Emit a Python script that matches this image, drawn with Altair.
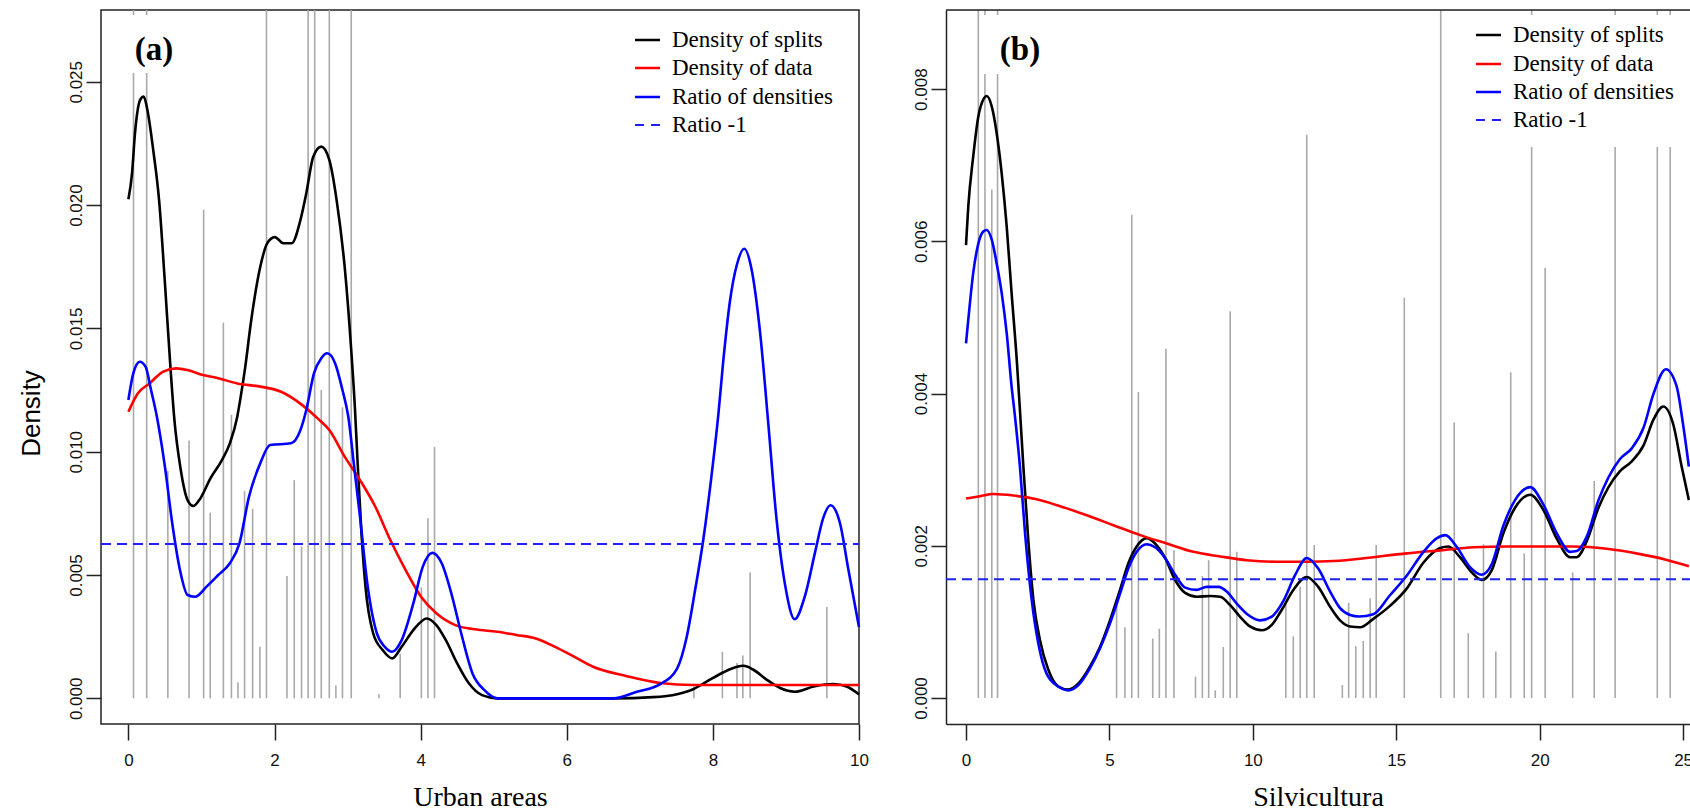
import altair as alt
import pandas as pd

# ---------------- Panel (a): Urban areas ----------------
a_xticks = [0, 2, 4, 6, 8, 10]
a_yticks = [0.000, 0.005, 0.010, 0.015, 0.020, 0.025]
a_ratio_ref = 0.00626

a_rug_x = [0.07, 0.25, 0.54, 0.83, 1.03, 1.12, 1.30, 1.41, 1.50, 1.59, 1.70, 1.80, 1.89,
           2.17, 2.27, 2.37, 2.46, 2.55, 2.64, 2.75, 2.84, 2.93, 3.05, 3.43, 3.72, 4.01,
           4.10, 4.19, 7.74, 8.13, 8.33, 8.41, 8.51, 9.56]
a_rug_h = [0.02536, 0.02536, 0.00922, 0.01045, 0.01981, 0.00753, 0.01523, 0.0115, 0.00065,
           0.0084, 0.00768, 0.00209, 0.03, 0.00496, 0.00885, 0.00615, 0.03, 0.03, 0.0125,
           0.03, 0.00053, 0.0118, 0.03, 0.00017, 0.0018, 0.0045, 0.0073, 0.0102, 0.00048,
           0.00189, 0.00143, 0.00174, 0.0051, 0.0037]
a_stub_x = [0.07, 0.25]

a_splits_x = [0.00, 0.05, 0.09, 0.16, 0.21, 0.26, 0.34, 0.42, 0.50, 0.575, 0.63, 0.71, 0.81,
              0.89, 0.97, 1.125, 1.28, 1.39, 1.49, 1.53, 1.60, 1.675, 1.805, 1.90, 2.005,
              2.12, 2.235, 2.355, 2.435, 2.53, 2.64, 2.75, 2.85, 2.96, 3.05, 3.10, 3.14,
              3.19, 3.245, 3.35, 3.48, 3.61, 3.74, 3.90, 4.085, 4.215, 4.345, 4.50, 4.66,
              4.84, 5.05, 6.64, 7.18, 7.51, 7.73, 7.92, 8.14, 8.33, 8.42, 8.55, 8.74, 8.92,
              9.12, 9.38, 9.65, 9.83, 10.0]
a_splits_y = [0.02024, 0.0213, 0.02291, 0.02426, 0.0244, 0.02386, 0.02223, 0.0202, 0.01684,
              0.01344, 0.01128, 0.00939, 0.00804, 0.0078, 0.00804, 0.00893, 0.00966, 0.01035,
              0.01142, 0.0121, 0.01345, 0.0152, 0.0175, 0.01845, 0.0187, 0.01845, 0.01845,
              0.0194, 0.02048, 0.02196, 0.02237, 0.02183, 0.0202, 0.0175, 0.01412, 0.0118,
              0.0094, 0.0067, 0.00453, 0.00264, 0.00196, 0.00162, 0.00209, 0.00277, 0.00324,
              0.00297, 0.00236, 0.00142, 0.00061, 0.00013, 0.0, 0.0, 0.00005, 0.00017,
              0.00037, 0.00069, 0.00105, 0.00128, 0.00132, 0.00117, 0.00075, 0.00042,
              0.00027, 0.00048, 0.00058, 0.00048, 0.00016]

a_data_x = [0, 0.13, 0.29, 0.47, 0.655, 0.81, 1.02, 1.23, 1.49, 1.805, 2.09, 2.38, 2.59,
            2.75, 2.96, 3.17, 3.38, 3.585, 3.795, 4.005, 4.215, 4.475, 4.74, 5.05, 5.31,
            5.575, 5.84, 6.10, 6.36, 6.82, 7.28, 7.73, 8.5, 9.3, 10.0]
a_data_y = [0.01162, 0.01237, 0.01277, 0.01324, 0.01338, 0.01331, 0.01311, 0.01298, 0.01277,
            0.01264, 0.01243, 0.01189, 0.01135, 0.01088, 0.0098, 0.00885, 0.00777, 0.00642,
            0.0052, 0.00412, 0.00345, 0.00297, 0.0028, 0.0027, 0.00257, 0.00243, 0.00209,
            0.00169, 0.00128, 0.0009, 0.00062, 0.00054, 0.00054, 0.00054, 0.00054]

a_ratio_x = [0, 0.067, 0.156, 0.235, 0.31, 0.39, 0.50, 0.60, 0.706, 0.81, 0.915, 1.07, 1.23,
             1.386, 1.52, 1.65, 1.805, 1.94, 2.225, 2.355, 2.435, 2.54, 2.64, 2.72, 2.83,
             2.93, 3.01, 3.09, 3.17, 3.27, 3.40, 3.51, 3.61, 3.74, 3.90, 4.03, 4.16, 4.29,
             4.42, 4.555, 4.71, 4.87, 5.05, 6.64, 6.96, 7.28, 7.51, 7.64, 7.755, 7.87, 7.98,
             8.075, 8.14, 8.235, 8.33, 8.43, 8.53, 8.645, 8.76, 8.87, 8.99, 9.12, 9.26, 9.40,
             9.51, 9.61, 9.74, 9.855, 10.0]
a_ratio_y = [0.0121, 0.01318, 0.01365, 0.01345, 0.0125, 0.01142, 0.00939, 0.0071, 0.0052,
             0.00419, 0.00412, 0.00453, 0.005, 0.00547, 0.00628, 0.00817, 0.00953, 0.01027,
             0.01034, 0.01088, 0.01169, 0.01318, 0.01379, 0.01399, 0.01358, 0.0125, 0.01142,
             0.00939, 0.00736, 0.00466, 0.00264, 0.00209, 0.00189, 0.00236, 0.00385, 0.00534,
             0.0059, 0.00547, 0.00426, 0.00264, 0.00101, 0.00034, 0.0, 0.0, 0.00027,
             0.00058, 0.00121, 0.00247, 0.00436, 0.00646, 0.00899, 0.01151, 0.01361, 0.01613,
             0.0176, 0.01823, 0.01739, 0.01487, 0.01109, 0.00731, 0.00457, 0.00321, 0.00415,
             0.00594, 0.00731, 0.00783, 0.0071, 0.00521, 0.00289]

# ---------------- Panel (b): Silvicultura ----------------
b_xticks = [0, 5, 10, 15, 20, 25]
b_yticks = [0.000, 0.002, 0.004, 0.006, 0.008]
b_ratio_ref = 0.00156

b_rug_x = [0.43, 0.66, 0.90, 1.10, 5.25, 5.54, 5.78, 6.01, 6.51, 6.74, 6.97, 7.25, 8.00,
           8.24, 8.46, 8.69, 8.97, 9.21, 9.44, 11.15, 11.41, 11.65, 11.88, 12.14, 13.12,
           13.34, 13.59, 13.85, 14.09, 14.30, 15.28, 16.55, 17.02, 17.51, 18.04, 18.47,
           18.99, 19.46, 19.72, 20.19, 21.15, 21.90, 22.63, 24.10, 24.55]
b_rug_h = [0.0095, 0.0082, 0.00668, 0.0082, 0.00125, 0.00093, 0.00635, 0.00402, 0.00078,
           0.00091, 0.00459, 0.00194, 0.00028, 0.0016, 0.00181, 0.0001, 0.00067, 0.00508,
           0.00192, 0.00125, 0.00081, 0.00146, 0.0074, 0.00201, 0.00017, 0.00125, 0.00068,
           0.00075, 0.00131, 0.00201, 0.00526, 0.0095, 0.00362, 0.00085, 0.00202, 0.00061,
           0.00428, 0.0019, 0.00724, 0.00565, 0.00165, 0.00285, 0.00724, 0.00724, 0.00724]
b_stub_x = [0.66, 1.10, 19.72, 22.63, 24.10, 24.55]

b_splits_x = [0, 0.08, 0.25, 0.43, 0.60, 0.72, 0.90, 1.07, 1.245, 1.42, 1.59, 1.77, 1.87,
              2.0, 2.17, 2.35, 2.58, 2.87, 3.22, 3.57, 3.92, 4.32, 4.67, 5.02, 5.37, 5.66,
              5.95, 6.30, 6.59, 6.94, 7.29, 7.64, 8.04, 8.51, 8.86, 9.21, 9.55, 9.90, 10.31,
              10.66, 11.01, 11.41, 11.88, 12.28, 12.69, 13.04, 13.39, 13.74, 14.20, 14.78,
              15.37, 15.95, 16.53, 16.82, 17.22, 17.63, 17.98, 18.33, 18.73, 19.14, 19.67,
              20.13, 20.60, 21.06, 21.29, 21.64, 22.05, 22.40, 22.80, 23.21, 23.62, 23.97,
              24.31, 24.66, 24.95, 25.2]
b_splits_y = [0.00595, 0.00646, 0.00711, 0.00764, 0.00786, 0.00791, 0.00777, 0.00742,
              0.00689, 0.00619, 0.00532, 0.00444, 0.00385, 0.00304, 0.00208, 0.00129,
              0.00076, 0.00037, 0.00015, 0.00011, 0.00019, 0.00041, 0.00067, 0.00102,
              0.00142, 0.00177, 0.00199, 0.0021, 0.00203, 0.00184, 0.00155, 0.00138, 0.00133,
              0.00134, 0.00133, 0.00122, 0.00107, 0.00094, 0.00089, 0.00096, 0.00116,
              0.00142, 0.00159, 0.00146, 0.0012, 0.00102, 0.00094, 0.00093, 0.00104, 0.00121,
              0.00144, 0.00178, 0.00197, 0.00199, 0.00185, 0.00165, 0.00155, 0.00168,
              0.00216, 0.0025, 0.00267, 0.00247, 0.00209, 0.00185, 0.00185, 0.00206, 0.0025,
              0.00277, 0.00298, 0.00311, 0.00332, 0.00366, 0.00383, 0.00359, 0.00304, 0.0026]

b_data_x = [0, 0.49, 0.95, 1.65, 2.46, 3.28, 4.21, 5.14, 6.07, 7.0, 7.93, 8.86, 9.79, 10.83,
            11.88, 12.81, 13.74, 14.20, 15.37, 16.53, 17.69, 18.85, 20.01, 21.18, 22.34,
            23.50, 24.37, 25.2]
b_data_y = [0.00262, 0.00265, 0.00268, 0.00266, 0.00261, 0.00252, 0.0024, 0.00227, 0.00214,
            0.00203, 0.00192, 0.00186, 0.00181, 0.00179, 0.00179, 0.0018, 0.00183, 0.00185,
            0.0019, 0.00194, 0.00198, 0.00199, 0.00199, 0.00199, 0.00196, 0.00189, 0.00182,
            0.00173]

b_ratio_x = [0, 0.08, 0.25, 0.43, 0.60, 0.72, 0.90, 1.07, 1.245, 1.42, 1.59, 1.69, 1.88,
             2.06, 2.29, 2.52, 2.81, 3.22, 3.57, 3.92, 4.32, 4.67, 5.02, 5.37, 5.66, 5.95,
             6.30, 6.59, 6.94, 7.29, 7.64, 8.04, 8.39, 8.80, 9.09, 9.44, 9.84, 10.25, 10.66,
             11.07, 11.48, 11.88, 12.28, 12.69, 13.04, 13.39, 13.70, 14.20, 14.78, 15.37,
             15.95, 16.42, 16.71, 17.10, 17.57, 17.98, 18.33, 18.73, 19.14, 19.67, 20.13,
             20.60, 21.06, 21.29, 21.64, 22.05, 22.40, 22.80, 23.21, 23.62, 23.97, 24.40,
             24.77, 25.0, 25.2]
b_ratio_y = [0.00466, 0.00497, 0.00558, 0.00597, 0.00613, 0.00615, 0.00602, 0.00571, 0.00532,
             0.00479, 0.00409, 0.00376, 0.00304, 0.00216, 0.00129, 0.00072, 0.00032, 0.00015,
             0.0001, 0.00017, 0.00039, 0.00065, 0.00098, 0.00137, 0.0017, 0.00192, 0.00202,
             0.00198, 0.00184, 0.00162, 0.00145, 0.00142, 0.00146, 0.00146, 0.0014, 0.00124,
             0.00109, 0.00102, 0.00107, 0.00128, 0.00162, 0.00184, 0.0017, 0.0014, 0.00118,
             0.00109, 0.00107, 0.0011, 0.00135, 0.00161, 0.00192, 0.0021, 0.00214, 0.00199,
             0.00172, 0.00162, 0.00176, 0.00226, 0.0026, 0.00277, 0.00254, 0.00216, 0.00192,
             0.00193, 0.00212, 0.0026, 0.0029, 0.00314, 0.00328, 0.00355, 0.004, 0.00432,
             0.0041, 0.00359, 0.00304]

legend_labels = ["Density of splits", "Density of data", "Ratio of densities", "Ratio -1"]
legend_colors = ["#000000", "#ff0000", "#0000ff", "#1f1fff"]

SERIF = "Liberation Serif"
SANS = "Liberation Sans"
GREY = "#a9a9a9"


def panel(rug_x, rug_h, stub_x, curves, ref, xdom, ydom, xticks, yticks, w, h,
          xtitle, ytitle, tag, tag_x, leg_x, leg_y, boxed):
    xs = alt.Scale(domain=xdom, nice=False, zero=False)
    ys = alt.Scale(domain=ydom, nice=False, zero=False, clamp=True)
    xaxis = alt.Axis(values=xticks, format="d", title=xtitle, grid=False,
                     domain=not boxed, domainColor="#222", domainWidth=1.5,
                     tickSize=16, tickColor="#222", tickWidth=1.5,
                     labelFont=SANS, labelFontSize=17, labelColor="#111",
                     labelPadding=12, labelFlush=False, labelOverlap=False,
                     titleFont=SERIF, titleFontSize=28, titleFontWeight="normal",
                     titleColor="#000", titleX=w / 2, titleY=81,
                     titleBaseline="alphabetic", titleAlign="center")
    yargs = dict(values=yticks, format=".3f", grid=False,
                 domain=not boxed, domainColor="#222", domainWidth=1.5,
                 tickSize=15, tickColor="#222", tickWidth=1.5,
                 labelFont=SANS, labelFontSize=17, labelColor="#111",
                 labelAngle=270, labelAlign="center", labelBaseline="bottom",
                 labelPadding=1, labelOverlap=False)
    if ytitle:
        yaxis = alt.Axis(title=ytitle, titleFont=SANS, titleFontSize=26,
                         titleFontWeight="normal", titleColor="#000", titleAngle=270,
                         titleX=-62, titleY=403, titleAlign="center",
                         titleBaseline="alphabetic", **yargs)
    else:
        yaxis = alt.Axis(title=None, **yargs)

    rug = pd.DataFrame({"x": rug_x, "h": rug_h})
    layers = [
        alt.Chart(rug).mark_rule(color=GREY, strokeWidth=1.6).encode(
            x=alt.X("x:Q", scale=xs, axis=xaxis),
            y=alt.Y("h:Q", scale=ys, axis=yaxis),
            y2=alt.datum(0.0)),
        alt.Chart(pd.DataFrame({"x": stub_x})).mark_rule(color=GREY, strokeWidth=1.6).encode(
            x=alt.X("x:Q", scale=xs), y=alt.value(0), y2=alt.value(5)),
    ]
    for (cx, cy), col in zip(curves, legend_colors[:3]):
        df = pd.DataFrame({"x": cx, "y": cy})
        layers.append(alt.Chart(df).mark_line(color=col, strokeWidth=2.6,
                                              interpolate="monotone").encode(
            x=alt.X("x:Q", scale=xs), y=alt.Y("y:Q", scale=ys)))
    layers.append(alt.Chart(pd.DataFrame({"r": [ref]})).mark_rule(
        color=legend_colors[3], strokeWidth=2, strokeDash=[10, 6]).encode(
        y=alt.Y("r:Q", scale=ys), x=alt.value(0), x2=alt.value(w)))
    if not boxed:
        layers.append(alt.Chart().mark_rule(color="#222", strokeWidth=1.5).encode(
            x=alt.value(0), x2=alt.value(w), y=alt.value(0)))
    layers.append(alt.Chart().mark_text(font=SERIF, fontSize=33, fontWeight="bold",
                                        align="center", baseline="alphabetic",
                                        color="#000").encode(
        x=alt.value(tag_x), y=alt.value(50), text=alt.value(tag)))
    for i, lab in enumerate(legend_labels):
        dashed = i == 3
        layers.append(alt.Chart().mark_rule(
            color=legend_colors[i], strokeWidth=2 if dashed else 2.6,
            strokeDash=[9, 7] if dashed else [1, 0]).encode(
            x=alt.value(leg_x), x2=alt.value(leg_x + 25), y=alt.value(leg_y[i])))
        layers.append(alt.Chart().mark_text(font=SERIF, fontSize=23, align="left",
                                            baseline="middle", color="#000").encode(
            x=alt.value(leg_x + 37), y=alt.value(leg_y[i]), text=alt.value(lab)))
    ch = alt.layer(*layers).properties(width=w, height=h)
    if boxed:
        ch = ch.properties(view=alt.ViewBackground(stroke="#222", strokeWidth=1.5))
    return ch


pa = panel(a_rug_x, a_rug_h, a_stub_x,
           [(a_splits_x, a_splits_y), (a_data_x, a_data_y), (a_ratio_x, a_ratio_y)],
           a_ratio_ref, [-0.375, 10.0], [-0.00104, 0.02791], a_xticks, a_yticks,
           758, 714, "Urban areas", "Density", "(a)", 53, 534, [30, 58, 87, 115], True)
pb = panel(b_rug_x, b_rug_h, b_stub_x,
           [(b_splits_x, b_splits_y), (b_data_x, b_data_y), (b_ratio_x, b_ratio_y)],
           b_ratio_ref, [-0.697, 25.24], [-0.000342, 0.00904], b_xticks, b_yticks,
           744, 714, "Silvicultura", None, "(b)", 74, 530, [25, 54, 82, 110], False)

chart = alt.hconcat(pa, pb, spacing=87, bounds="flush").properties(
    autosize=alt.AutoSizeParams(type="none"),
    padding={"left": 101, "top": 10, "right": 1589, "bottom": 796},
).configure_view(stroke=None).configure(background="white")

chart.save("out.html", embed_options={"renderer": "svg", "actions": False})
